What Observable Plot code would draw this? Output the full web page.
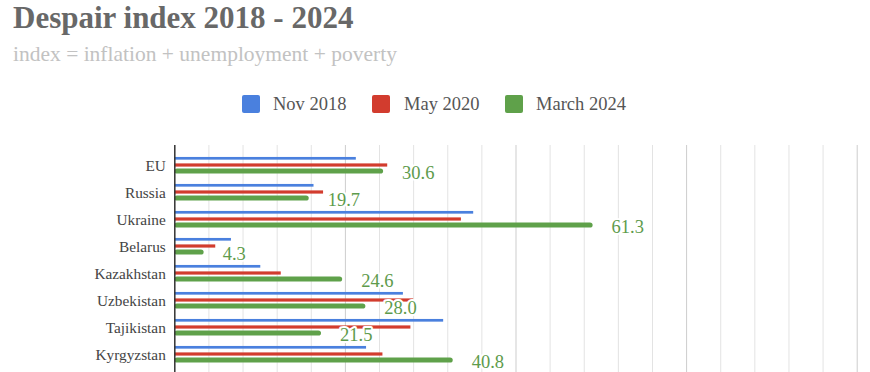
<!DOCTYPE html>
<html><head><meta charset="utf-8">
<script src="https://cdn.jsdelivr.net/npm/d3@7"></script>
<script src="https://cdn.jsdelivr.net/npm/@observablehq/plot@0.6"></script>
<style>
body{margin:0;background:#fff;width:870px;height:372px;overflow:hidden;font-family:"Liberation Serif","Times New Roman",serif;}
#head{position:relative;height:130px;}
#head div{position:absolute;white-space:nowrap;line-height:1;}
#title{left:13px;top:1.7px;font-weight:bold;font-size:31px;color:#686868;}
#subtitle{left:13px;top:43.7px;font-size:21.5px;color:#c2c2c2;}
.sw{width:18px;height:18px;border-radius:2px;top:95px;}
.lt{font-size:18.5px;color:#555;top:94.5px;}
#chart svg{display:block;}
#chart svg text{font-family:"Liberation Serif","Times New Roman",serif;}
</style></head>
<body>
<div id="head">
  <div id="title">Despair index 2018 - 2024</div>
  <div id="subtitle">index = inflation + unemployment + poverty</div>
</div>
<div id="chart"></div>
<script>
const countries = ["EU","Russia","Ukraine","Belarus","Kazakhstan","Uzbekistan","Tajikistan","Kyrgyzstan"];
const nov2018   = [26.6, 20.4, 43.8, 8.3, 12.6, 33.5, 39.4, 28.1];
const may2020   = [31.2, 21.8, 42.0, 6.0, 15.6, 35.0, 34.6, 30.5];
const march2024 = [30.6, 19.7, 61.3, 4.3, 24.6, 28.0, 21.5, 40.8];
const seriesNames = ["Nov 2018","May 2020","March 2024"];
const seriesColors = ["#4a80de","#d23c2e","#5fa14a"];
const gridTicks = d3.range(0, 101, 5);

// legend
const head = document.getElementById("head");
const legendX = [[242,273],[372,404],[505,536]];
seriesNames.forEach((name,i)=>{
  const s = document.createElement("div"); s.className="sw";
  s.style.left = legendX[i][0]+"px"; s.style.background = seriesColors[i];
  head.appendChild(s);
  const t = document.createElement("div"); t.className="lt";
  t.style.left = legendX[i][1]+"px"; t.textContent = name;
  head.appendChild(t);
});

const rows = countries.map((c,i)=>({country:c, nov2018:nov2018[i], may2020:may2020[i], march2024:march2024[i]}));
const step = 27.3, y0 = 20.85;

const chart = Plot.plot({
  width: 870, height: 280,
  marginTop: 15, marginLeft: 174.3, marginRight: 13.3, marginBottom: 0,
  x: {domain: [0, 100], axis: null},
  y: {domain: countries, range: [y0, y0 + countries.length*step], padding: 0, axis: null},
  style: "font-family: 'Liberation Serif', 'Times New Roman', serif; background: white;",
  marks: [
    Plot.ruleX(gridTicks.filter(d => d % 25 !== 0), {stroke: "#e3e3e3", strokeWidth: 1}),
    Plot.ruleX(gridTicks.filter(d => d % 25 === 0 && d > 0), {stroke: "#cdcdcd", strokeWidth: 1}),
    Plot.barX(rows, {x: "nov2018", y: "country", fill: seriesColors[0], insetTop: 4.95, insetBottom: 19.35}),
    Plot.barX(rows, {x: "may2020", y: "country", fill: seriesColors[1], insetTop: 11.4, insetBottom: 12.4}),
    Plot.barX(rows, {x: "march2024", y: "country", fill: seriesColors[2], insetTop: 16.4, insetBottom: 5.4, rx: 2.75}),
    Plot.ruleX([0], {stroke: "#333", strokeWidth: 1.5}),
    Plot.text(countries, {x: () => 0, y: d => d, textAnchor: "end", dx: -9, fontSize: 15.3, fill: "#444"}),
    Plot.text(rows, {x: "march2024", y: "country", text: d => d.march2024.toFixed(1),
      textAnchor: "start", dx: 18.5, dy: 7.5, fontSize: 18.5, fill: "#5e9b4c",
      stroke: "white", strokeWidth: 4})
  ]
});
document.getElementById("chart").appendChild(chart);
</script>
</body></html>
